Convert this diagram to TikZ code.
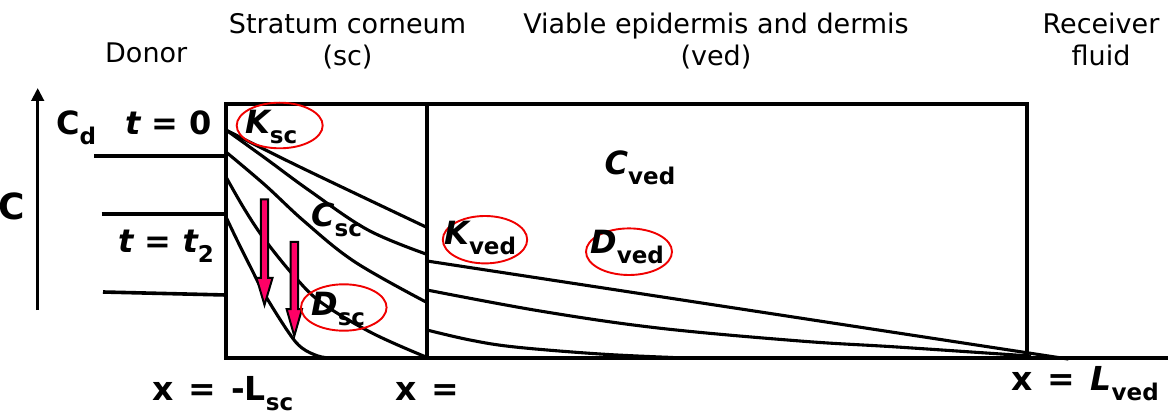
\documentclass[tikz,border=0pt]{standalone}
\usepackage{fontspec}
\setmainfont{DejaVu Sans}
\usetikzlibrary{arrows.meta}
\definecolor{dropcol}{RGB}{255,0,102}
\definecolor{ovalred}{RGB}{240,0,0}
\newcommand\regf{\fontsize{27}{32}\selectfont}
\newcommand\bldf{\fontsize{32}{38}\selectfont\bfseries}
\newcommand\xlf{\fontsize{33}{38}\selectfont\bfseries\spaceskip=15pt\relax}
\newcommand\subs[1]{\raisebox{-10pt}{\fontsize{23}{23}\selectfont\bfseries\upshape #1}}
\begin{document}
\begin{tikzpicture}[x=1pt,y=-1pt,
  lab/.style={inner sep=0pt, font=\regf, align=center, anchor=north},
  mathlab/.style={inner sep=0pt, font=\bldf, anchor=base west},
  boxline/.style={line width=3.6pt},
  curv/.style={line width=3.1pt, line join=round, line cap=round},
  oval/.style={draw=ovalred, line width=1.9pt},
  dropar/.style={fill=dropcol, draw=black, line width=2pt, line join=miter},
]
\useasboundingbox (0,0) rectangle (1168,414);

% boxes
\coordinate (sctl) at (225.7,104);
\coordinate (scbr) at (426.7,357.7);
\coordinate (vedtl) at (426.7,104);
\coordinate (vedbr) at (1027,357.7);
\coordinate (baseend) at (1168,357.7);
\draw[boxline] (sctl) rectangle (scbr);
\draw[boxline] (vedtl) rectangle (vedbr);
\draw[boxline] (vedbr) -- (baseend);

% axis
\coordinate (axbot) at (37.7,310);
\coordinate (axtop) at (37.7,88);
\draw[line width=3pt, -{Triangle[length=13pt,width=12.5pt]}] (axbot) -- (axtop);

% donor levels
\coordinate (d1a) at (94.3,156);   \coordinate (d1b) at (225.7,156);
\coordinate (d2a) at (101.7,214);  \coordinate (d2b) at (225.7,214);
\coordinate (d3a) at (103,292);    \coordinate (d3b) at (225.7,295);
\draw[boxline] (d1a) -- (d1b);
\draw[boxline] (d2a) -- (d2b);
\draw[boxline] (d3a) -- (d3b);

% sc profiles
\draw[curv] plot[smooth, tension=0.6] coordinates {(226,130) (300,167) (426,227)};
\draw[curv] plot[smooth, tension=0.6] coordinates {(226,130) (265,158) (310,191) (368,230) (426,254)};
\draw[curv] plot[smooth, tension=0.6] coordinates {(226,152) (265,185) (305,222) (355,262) (426,302)};
\draw[curv] plot[smooth, tension=0.6] coordinates {(226,177) (245,210) (265,240) (295,277) (322,303) (372,333) (426,357)};
\draw[curv] plot[smooth, tension=0.6] coordinates {(226,217) (237,240) (251,268) (265,295) (289,333) (302,348) (318,356) (330,358)};

% ved profiles
\coordinate (v1a) at (427,261); \coordinate (v1b) at (1068,359);
\draw[curv] (v1a) -- (v1b);
\draw[curv] plot[smooth, tension=0.6] coordinates {(427,290) (540,311) (658,328) (800,341) (897,347) (1030,356)};
\draw[curv] plot[smooth, tension=0.6] coordinates {(427,330) (470,340) (515,347) (600,354) (673,357.5)};

% arrows (concentration decrease)
\draw[dropar] (260.8,199.5) -- (268.2,199.5) -- (268.2,278) -- (272.5,278) -- (264.5,305) -- (256.5,278) -- (260.8,278) -- cycle;
\draw[dropar] (290.6,242) -- (298,242) -- (298,309) -- (302,309) -- (294.3,336) -- (286.6,309) -- (290.6,309) -- cycle;

% ovals
\draw[oval] (279.7,125.5) ellipse [x radius=43pt, y radius=22.8pt];
\draw[oval] (343.8,307.5) ellipse [x radius=42.8pt, y radius=23.2pt];
\draw[oval] (485,239.7) ellipse [x radius=42.2pt, y radius=23.7pt];
\draw[oval] (629,251.7) ellipse [x radius=43pt, y radius=23.3pt];

% headings
\node[lab, anchor=base west] (donor) at (105,62.3) {Donor};
\node[lab] (sclab) at (347.5,13) {Stratum corneum\\(sc)};
\node[lab] (vedlab) at (716,12.5) {Viable epidermis and dermis\\(ved)};
\node[lab] (reclab) at (1101,13) {Receiver\\fluid};

% variables
\node[mathlab] (cd) at (56,135) {C\subs{d}};
\node[mathlab] (t0) at (125,135) {\itshape t\upshape{} = 0};
\node[mathlab, font=\fontsize{36}{40}\selectfont\bfseries] (cax) at (-2,219.5) {C};
\node[mathlab] (t2) at (118,252.7) {\itshape t\upshape{} = \itshape t\subs{2}};
\node[mathlab] (ksc) at (245,133.3) {\itshape K\subs{sc}};
\node[mathlab] (csc) at (311,226.7) {\itshape C\subs{sc}};
\node[mathlab] (dsc) at (311,315.7) {\itshape D\subs{sc}};
\node[mathlab] (cved) at (604.5,175) {\itshape C\subs{ved}};
\node[mathlab] (kved) at (444,245) {\itshape K\subs{ved}};
\node[mathlab] (dved) at (590,253.3) {\itshape D\subs{ved}};
\node[mathlab, font=\xlf] (xl) at (152,400) {x = -L\subs{sc}};
\node[mathlab, font=\xlf] (x0) at (395,400) {x =};
\node[mathlab, font=\xlf] (xr) at (1011.5,390.7) {x = \itshape L\subs{ved}};
\end{tikzpicture}
\end{document}
